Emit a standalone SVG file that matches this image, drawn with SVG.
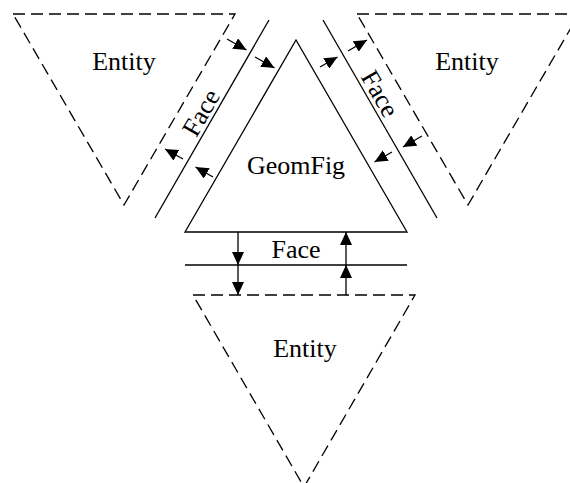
<svg xmlns="http://www.w3.org/2000/svg" width="570" height="483" viewBox="0 0 570 483">
<defs>
<marker id="ah" viewBox="0 0 13 12" refX="13" refY="6" markerWidth="13" markerHeight="12" markerUnits="userSpaceOnUse" orient="auto">
<path d="M0,0 L13,6 L0,12 z" fill="#000"/>
</marker>
<style>
.ent{fill:none;stroke:#000;stroke-width:1.3;stroke-dasharray:12,6}
.solid{fill:none;stroke:#000;stroke-width:1.3}
.arr{fill:none;stroke:#000;stroke-width:1.3;marker-end:url(#ah)}
text{font-family:"Liberation Serif","Times New Roman",serif;font-size:26px;fill:#000;text-anchor:middle}
</style>
</defs>
<rect width="570" height="483" fill="#fff"/>
<g id="entity-left">
<polygon class="ent" points="13,14 235,14 124,205"/>
<text x="124" y="70">Entity</text>
</g>
<g id="entity-right">
<polygon class="ent" points="357,14 579,14 468,205"/>
<text x="467" y="70">Entity</text>
</g>
<g id="entity-bottom">
<polygon class="ent" points="193,295 415,295 304,487"/>
<text x="305" y="357">Entity</text>
</g>
<g id="geomfig">
<polygon class="solid" points="185,232 407,232 296,40"/>
<text x="296" y="174">GeomFig</text>
</g>
<g id="face-left">
<line class="solid" x1="155" y1="218" x2="269" y2="20"/>
<text transform="translate(208.5,117) rotate(-60)">Face</text>
</g>
<g id="face-right">
<line class="solid" x1="323" y1="20" x2="437" y2="218"/>
<text transform="translate(372.5,98) rotate(60)">Face</text>
</g>
<g id="face-bottom">
<line class="solid" x1="185" y1="265" x2="407" y2="265"/>
<text x="296" y="258">Face</text>
</g>
<g id="connectors">
<line class="arr" x1="227" y1="39" x2="246.5" y2="50"/>
<line class="arr" x1="255" y1="57" x2="274.5" y2="68"/>
<line class="arr" x1="183" y1="159" x2="165" y2="149"/>
<line class="arr" x1="213" y1="177" x2="195.5" y2="167"/>
<line class="arr" x1="320" y1="67" x2="337.5" y2="57"/>
<line class="arr" x1="348" y1="51" x2="367" y2="40"/>
<line class="arr" x1="422" y1="136" x2="403" y2="147"/>
<line class="arr" x1="392" y1="152" x2="374.5" y2="162"/>
<line class="arr" x1="238" y1="232" x2="238" y2="265"/>
<line class="arr" x1="238" y1="265" x2="238" y2="295"/>
<line class="arr" x1="346" y1="295" x2="346" y2="265"/>
<line class="arr" x1="346" y1="265" x2="346" y2="232"/>
</g>
</svg>
